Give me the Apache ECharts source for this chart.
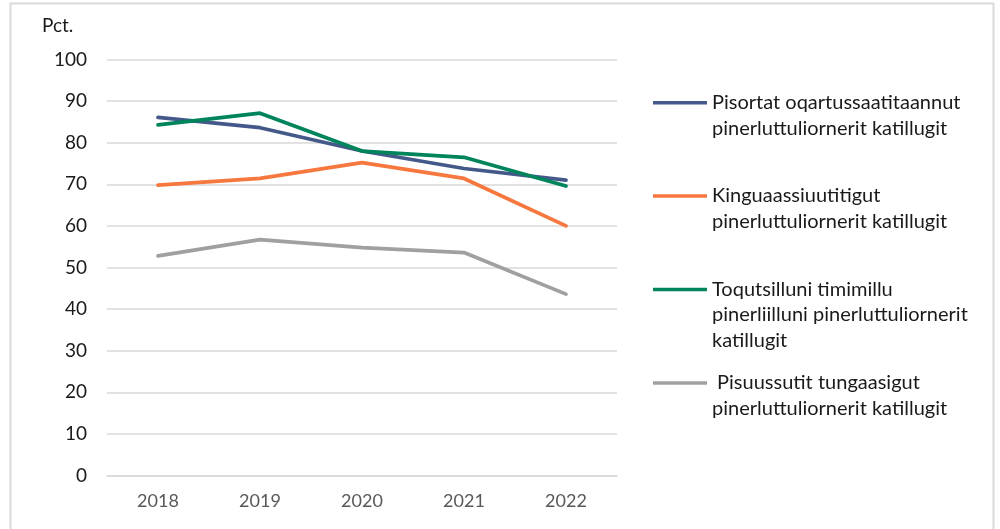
<!DOCTYPE html>
<html>
<head>
<meta charset="utf-8">
<script src="https://cdn.jsdelivr.net/npm/echarts@6/dist/echarts.min.js"></script>
<style>
html,body{margin:0;padding:0;background:#fff;}
#chart{width:1000px;height:529px;}
</style>
</head>
<body>
<div id="chart"></div>
<script>
var categories = ['2018', '2019', '2020', '2021', '2022'];
var yTicks = [0, 10, 20, 30, 40, 50, 60, 70, 80, 90, 100];
var seriesNames = ['Pisortat oqartussaatitaannut pinerluttuliornerit katillugit',
  'Kinguaassiuutitigut pinerluttuliornerit katillugit',
  'Toqutsilluni timimillu pinerliilluni pinerluttuliornerit katillugit',
  'Pisuussutit tungaasigut pinerluttuliornerit katillugit'];
var legendLines = [
  ['Pisortat oqartussaatitaannut', 'pinerluttuliornerit katillugit'],
  ['Kinguaassiuutitigut', 'pinerluttuliornerit katillugit'],
  ['Toqutsilluni timimillu', 'pinerliilluni pinerluttuliornerit', 'katillugit'],
  [' Pisuussutit tungaasigut', 'pinerluttuliornerit katillugit']
];
var valuesPublic = [86.1, 83.6, 78.0, 73.8, 71.0];
var valuesSexual = [69.8, 71.4, 75.2, 71.4, 60.0];
var valuesViolence = [84.3, 87.1, 78.0, 76.5, 69.6];
var valuesProperty = [52.8, 56.7, 54.8, 53.6, 43.6];
var seriesValues = [valuesPublic, valuesSexual, valuesViolence, valuesProperty];
var colors = ['#44598A', '#F7783F', '#00845C', '#A0A0A0'];

var FONT = 'Lato';
var LH = 25.5;
var legendCenters = [102.7, 196, 289.5, 383];

var legends = legendLines.map(function (lines, i) {
  var k = lines.length;
  var total = 2 * k - 1;
  return {
    show: true,
    orient: 'vertical',
    left: 653,
    top: legendCenters[i] - total * LH / 2,
    padding: 0,
    itemWidth: 54,
    itemHeight: 3.5,
    icon: 'rect',
    selectedMode: false,
    data: [{ name: seriesNames[i], itemStyle: { color: colors[i] } }],
    formatter: function () {
      var pre = '';
      for (var j = 1; j < k; j++) pre += '\n';
      return pre + lines.join('\n');
    },
    textStyle: { fontFamily: FONT, fontSize: 20, color: '#1A1A1A', lineHeight: LH }
  };
});

var chart = echarts.init(document.getElementById('chart'), null, { renderer: 'canvas' });
chart.setOption({
  backgroundColor: '#ffffff',
  animation: false,
  color: colors,
  textStyle: { fontFamily: FONT },
  graphic: [
    { type: 'rect', shape: { x: 10.5, y: 3.5, width: 983, height: 540 }, style: { fill: 'none', stroke: '#D9D9D9', lineWidth: 2 }, silent: true },
    { type: 'text', left: 42, top: 16, style: { text: 'Pct.', fontFamily: FONT, fontSize: 19, fill: '#1A1A1A' } }
  ],
  legend: legends,
  grid: { left: 107, right: 383, top: 59.5, bottom: 53.5, containLabel: false },
  xAxis: {
    type: 'category',
    data: categories,
    boundaryGap: true,
    axisLine: { show: true, lineStyle: { color: '#D9D9D9', width: 1.5 } },
    axisTick: { show: false },
    axisLabel: { color: '#595959', fontSize: 18, fontFamily: FONT, margin: 17 }
  },
  yAxis: {
    type: 'value',
    min: 0,
    max: 100,
    interval: 10,
    axisLine: { show: false },
    axisTick: { show: false },
    axisLabel: { color: '#1A1A1A', fontSize: 19, fontFamily: FONT, margin: 20,
      formatter: function (v) { return yTicks.indexOf(v) >= 0 ? String(v) : ''; } },
    splitLine: { show: true, lineStyle: { color: '#D9D9D9', width: 1.5 } }
  },
  series: seriesNames.map(function (n, i) {
    return {
      name: n,
      type: 'line',
      data: seriesValues[i],
      symbol: 'none',
      smooth: false,
      lineStyle: { width: 3.75, color: colors[i], cap: 'round', join: 'round' },
      itemStyle: { color: colors[i] }
    };
  })
});
</script>
</body>
</html>
